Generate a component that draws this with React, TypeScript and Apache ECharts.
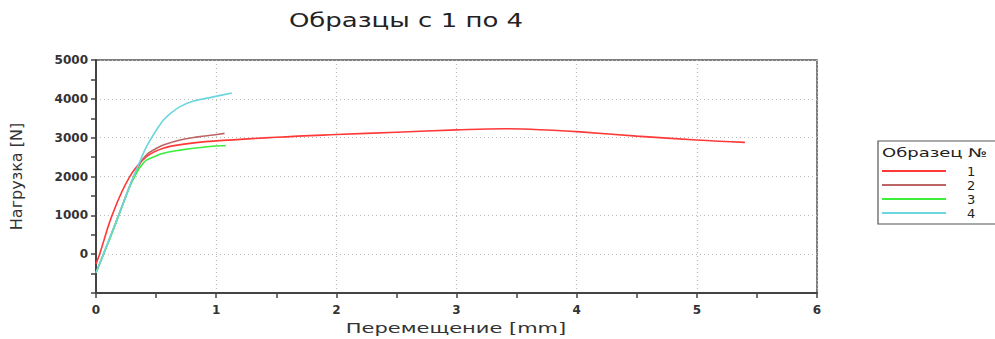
import React, { useEffect, useRef } from "react";
import * as echarts from "echarts";

const seriesNames = ["1", "2", "3", "4"];
const seriesColors = ["#ff3838", "#bd6464", "#3cef3c", "#6cd6de"];

const x1 = [0, 0.03, 0.14, 0.28, 0.42, 0.56, 0.75, 0.975, 1.5, 2.0, 2.5, 3.0, 3.4, 3.8, 4.03, 4.5, 5.0, 5.4];
const y1 = [-250, 0, 1050, 1990, 2510, 2730, 2840, 2910, 3010, 3080, 3140, 3200, 3230, 3190, 3150, 3040, 2940, 2880];

const x2 = [0, 0.1, 0.2, 0.3, 0.37, 0.42, 0.5, 0.56, 0.7, 0.85, 0.975, 1.07];
const y2 = [-480, 300, 1100, 1900, 2350, 2560, 2720, 2810, 2940, 3020, 3070, 3110];

const x3 = [0, 0.1, 0.2, 0.28, 0.33, 0.37, 0.42, 0.5, 0.56, 0.7, 0.85, 1.06, 1.08];
const y3 = [-480, 280, 1080, 1730, 2050, 2250, 2420, 2530, 2600, 2680, 2740, 2790, 2790];

const x4 = [0, 0.1, 0.2, 0.3, 0.37, 0.42, 0.5, 0.56, 0.63, 0.7, 0.8, 0.975, 1.13];
const y4 = [-480, 300, 1100, 1900, 2420, 2770, 3180, 3450, 3650, 3800, 3930, 4050, 4150];

const xsAll = [x1, x2, x3, x4];
const ysAll = [y1, y2, y3, y4];

const titleText = "Образцы с 1 по 4";
const xAxisName = "Перемещение [mm]";
const yAxisName = "Нагрузка [N]";
const legendTitle = "Образец №";

const FONT = "DejaVu Sans";

export default function App() {
  const ref = useRef<HTMLDivElement>(null);
  useEffect(() => {
    if (!ref.current) return;
    const chart = echarts.init(ref.current, undefined, { renderer: "svg" });
    const series = seriesNames.map((name, i) => ({
      name,
      type: "line",
      data: xsAll[i].map((x, j) => [x, ysAll[i][j]]),
      smooth: 0.4,
      showSymbol: false,
      lineStyle: { color: seriesColors[i], width: 1.6 },
      itemStyle: { color: seriesColors[i] },
    }));
    chart.setOption({
      animation: false,
      backgroundColor: "#ffffff",
      textStyle: { fontFamily: FONT },
      grid: {
        left: 96,
        right: 178,
        top: 60,
        bottom: 46,
        show: true,
        borderColor: "#555",
        borderWidth: 1.5,
      },
      xAxis: {
        type: "value",
        min: 0,
        max: 6,
        interval: 1,
        axisLine: { show: true, onZero: false, lineStyle: { color: "#444", width: 2 } },
        axisTick: { show: true, length: 5, lineStyle: { color: "#444", width: 1.5 } },
        minorTick: { show: true, splitNumber: 2, length: 5, lineStyle: { color: "#444", width: 1.5 } },
        axisLabel: { fontFamily: FONT, fontSize: 12, fontWeight: "bold", color: "#333", margin: 11 },
        splitLine: { show: true, lineStyle: { color: "#bbb", type: [1, 3], width: 1.2 } },
      },
      yAxis: {
        type: "value",
        min: -1000,
        max: 5000,
        interval: 1000,
        name: yAxisName,
        nameLocation: "middle",
        nameGap: 72,
        nameTextStyle: { fontFamily: FONT, fontSize: 16, color: "#333" },
        axisLine: { show: true, onZero: false, lineStyle: { color: "#444", width: 2 } },
        axisTick: { show: true, length: 5, lineStyle: { color: "#444", width: 1.5 } },
        minorTick: { show: true, splitNumber: 2, length: 5, lineStyle: { color: "#444", width: 1.5 } },
        axisLabel: {
          fontFamily: FONT,
          fontSize: 12,
          fontWeight: "bold",
          color: "#333",
          margin: 8,
          formatter: (v: number) => (v < 0 ? "" : String(v)),
        },
        splitLine: { show: true, lineStyle: { color: "#bbb", type: [1, 3], width: 1.2 } },
      },
      legend: {
        orient: "vertical",
        left: 882,
        top: 164,
        padding: 0,
        itemGap: 0,
        itemWidth: 64,
        itemHeight: 2,
        icon: "rect",
        data: seriesNames,
        textStyle: { fontFamily: FONT, fontSize: 13, color: "#222", lineHeight: 14, padding: [0, 0, 0, 16] },
      },
      graphic: [
        {
          type: "text",
          x: 406,
          y: 20,
          scaleX: 1.3,
          style: {
            text: titleText,
            fontFamily: FONT,
            fontSize: 20,
            fill: "#222",
            textAlign: "center",
            textVerticalAlign: "middle",
          },
        },
        {
          type: "text",
          x: 456,
          y: 328,
          scaleX: 1.5,
          style: {
            text: xAxisName,
            fontFamily: FONT,
            fontSize: 14,
            fill: "#333",
            textAlign: "center",
            textVerticalAlign: "middle",
          },
        },
        {
          type: "rect",
          shape: { x: 878, y: 141, width: 140, height: 83 },
          style: { fill: "none", stroke: "#555", lineWidth: 1.2 },
        },
        {
          type: "text",
          x: 882,
          y: 153,
          scaleX: 1.5,
          style: {
            text: legendTitle,
            fontFamily: FONT,
            fontSize: 12,
            fill: "#222",
            textAlign: "left",
            textVerticalAlign: "middle",
          },
        },
      ],
      series,
    });
    return () => chart.dispose();
  }, []);
  return <div ref={ref} style={{ width: 995, height: 339, position: "absolute", left: 0, top: 0 }} />;
}
